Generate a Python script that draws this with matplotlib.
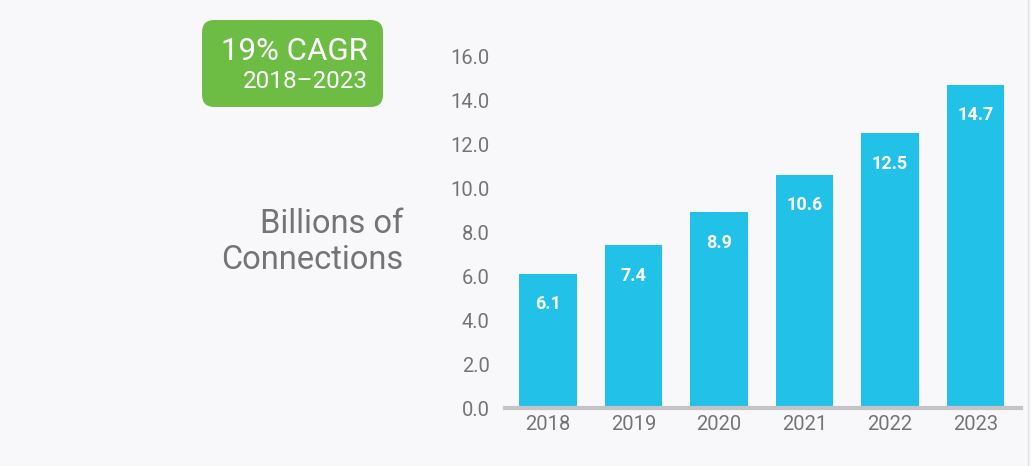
import matplotlib
matplotlib.use('Agg')
from matplotlib import pyplot as plt
from matplotlib.patches import FancyBboxPatch

plt.rcParams['font.family'] = ['Roboto', 'DejaVu Sans']

years = ['2018', '2019', '2020', '2021', '2022', '2023']
connections = [6.1, 7.4, 8.9, 10.6, 12.5, 14.7]
y_ticks = [0, 2, 4, 6, 8, 10, 12, 14, 16]

bg = '#f8f8fa'
bar_color = '#22c1e8'
gray = '#747474'

fig = plt.figure(figsize=(10.31, 4.66), dpi=100, facecolor=bg)
W, H = 1031, 466

# main axes, placed in pixel coords
left, right, top, bottom = 505, 1021, 56, 408
ax = fig.add_axes([left / W, 1 - bottom / H, (right - left) / W, (bottom - top) / H])
ax.set_facecolor(bg)

x = list(range(len(years)))
bars = ax.bar(x, connections, width=0.67, color=bar_color, zorder=2)
for b, v in zip(bars, connections):
    ax.annotate('%.1f' % v, (b.get_x() + b.get_width() / 2, v), xytext=(0, -22),
                textcoords='offset points', ha='center', va='center',
                color='white', fontsize=13, fontweight='bold')

ax.set_xlim(-0.503, 5.532)
ax.set_ylim(0, 16)
ax.set_xticks(x)
ax.set_xticklabels(years)
ax.set_yticks(y_ticks)
ax.set_yticklabels(['%.1f' % t for t in y_ticks])
ax.tick_params(axis='both', length=0, labelsize=14.5, labelcolor=gray)
ax.tick_params(axis='y', pad=11)
ax.tick_params(axis='x', pad=5)
for s in ['top', 'right', 'left']:
    ax.spines[s].set_visible(False)
ax.spines['bottom'].set_color('#c4c4c6')
ax.spines['bottom'].set_linewidth(3)
ax.spines['bottom'].set_zorder(3)

# y label on the left
fig.text(403 / W, 1 - 242 / H, 'Billions of\nConnections', ha='right', va='center',
         fontsize=23.5, color=gray, linespacing=1.15)

# CAGR badge
bx0, by0, bx1, by1 = 202, 20, 383, 107
badge = FancyBboxPatch((bx0 / W, 1 - by1 / H), (bx1 - bx0) / W, (by1 - by0) / H,
                       boxstyle='round,pad=0,rounding_size=0.012',
                       transform=fig.transFigure, facecolor='#6dbd45',
                       edgecolor='none', mutation_aspect=W / H)
fig.patches.append(badge)
fig.text(368 / W, 1 - 51 / H, '19% CAGR', ha='right', va='center',
         fontsize=22.5, color='white')
fig.text(368 / W, 1 - 81 / H, '2018\u20132023', ha='right', va='center',
         fontsize=17.5, color='white')

# faint frame edge on the right
fig.add_artist(plt.Line2D([1028 / W, 1028 / W], [0, 1], transform=fig.transFigure,
                          color='#e2e2e4', lw=1))

plt.savefig('out.png', dpi=100, facecolor=bg)
